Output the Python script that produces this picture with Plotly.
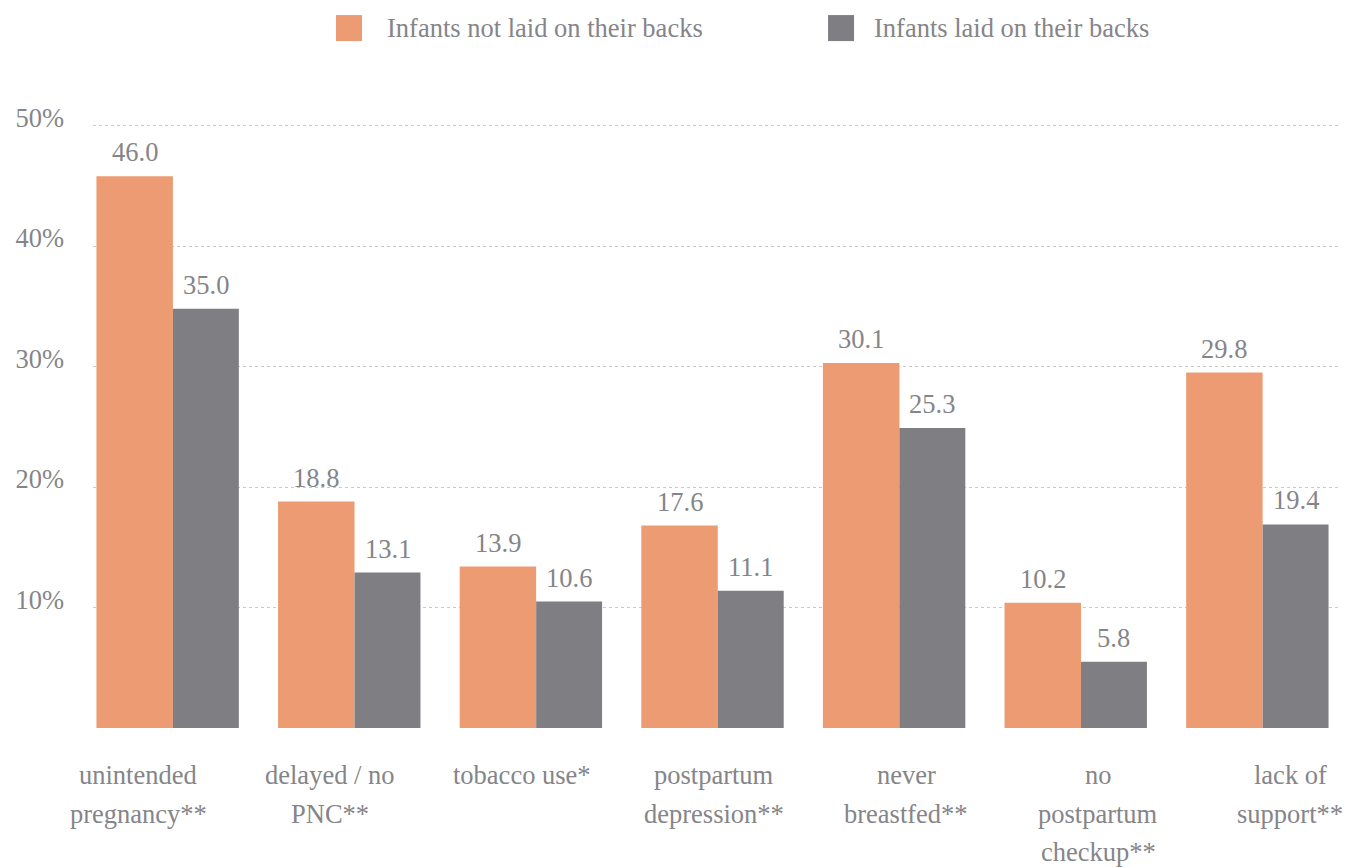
import plotly.graph_objects as go

# categories (line breaks as in the picture)
categories = [
    "unintended<br>pregnancy**",
    "delayed / no<br>PNC**",
    "tobacco use*",
    "postpartum<br>depression**",
    "never<br>breastfed**",
    "no<br>postpartum<br>checkup**",
    "lack of<br>support**",
]
series_names = ["Infants not laid on their backs", "Infants laid on their backs"]

# numbers printed above the bars
not_on_back_labels = [46.0, 18.8, 13.9, 17.6, 30.1, 10.2, 29.8]
on_back_labels = [35.0, 13.1, 10.6, 11.1, 25.3, 5.8, 19.4]

# bar heights as drawn in the picture (a few differ from the printed numbers)
not_on_back_bars = [45.8, 18.8, 13.4, 16.8, 30.3, 10.4, 29.5]
on_back_bars = [34.8, 12.9, 10.5, 11.4, 24.9, 5.5, 16.9]

y_ticks = [0, 10, 20, 30, 40, 50]
y_tick_labels = ["", "10%", "20%", "30%", "40%", "50%"]

ORANGE = "#EC9B72"
GREY = "#7F7F83"
TEXT = "#858589"
FONT = "Liberation Serif, Times New Roman, serif"
FSIZE = 26.5

orange_w, grey_w = 0.421, 0.363
x = list(range(len(categories)))

fig = go.Figure()
fig.add_trace(go.Bar(
    x=x, y=not_on_back_bars, name=series_names[0],
    marker=dict(color=ORANGE, line=dict(width=0)),
    width=orange_w, offset=-orange_w, showlegend=False, hoverinfo="name+y",
))
fig.add_trace(go.Bar(
    x=x, y=on_back_bars, name=series_names[1],
    marker=dict(color=GREY, line=dict(width=0)),
    width=grey_w, offset=0, showlegend=False, hoverinfo="name+y",
))

# value labels above bars
for i in x:
    fig.add_annotation(x=i - orange_w / 2, y=not_on_back_bars[i], text=f"{not_on_back_labels[i]:.1f}",
                       showarrow=False, yanchor="middle", yshift=24)
    fig.add_annotation(x=i + grey_w / 2, y=on_back_bars[i], text=f"{on_back_labels[i]:.1f}",
                       showarrow=False, yanchor="middle", yshift=24)

# category labels, one annotation per line so the line spacing matches
LBL_X0, LBL_STEP = 0.0365, 0.1542
for i, cat in enumerate(categories):
    for k, line in enumerate(cat.split("<br>")):
        fig.add_annotation(xref="paper", yref="paper", x=LBL_X0 + LBL_STEP * i, y=0,
                           text=line, showarrow=False, xanchor="center", yanchor="middle",
                           yshift=-47 - 38.5 * k)

# legend drawn by hand (big square swatches)
LEG_Y = 1.155
legend_items = [(0.1952, 0.2345, ORANGE, series_names[0]),
                (0.5904, 0.6257, GREY, series_names[1])]
for sx, tx, col, name in legend_items:
    fig.add_shape(type="rect", xref="paper", yref="paper",
                  xsizemode="pixel", ysizemode="pixel",
                  xanchor=sx, yanchor=LEG_Y, x0=0, x1=26, y0=-13, y1=13,
                  fillcolor=col, line=dict(width=0))
    fig.add_annotation(xref="paper", yref="paper", x=tx, y=LEG_Y, text=name,
                       showarrow=False, xanchor="left", yanchor="middle")

fig.update_layout(
    width=1356, height=867,
    margin=dict(l=93, r=18, t=122, b=139),
    plot_bgcolor="white", paper_bgcolor="white",
    barmode="overlay",
    font=dict(family=FONT, size=FSIZE, color=TEXT),
    showlegend=False,
    xaxis=dict(range=[-0.44, 6.415], showticklabels=False, showgrid=False,
               zeroline=False, showline=False, ticks=""),
    yaxis=dict(range=[0, 50.3], tickvals=y_ticks, ticktext=y_tick_labels,
               showgrid=True, gridcolor="#c9c9c9", griddash="dot", gridwidth=1,
               zeroline=False, showline=False, ticks="",
               ticklabelstandoff=28, ticklabelshift=-8),
)

# drop the browser's default body margin so the figure sits at the page corner
fig.write_html("out.html", config={"displayModeBar": False},
               post_script="document.body.style.margin='0';")
